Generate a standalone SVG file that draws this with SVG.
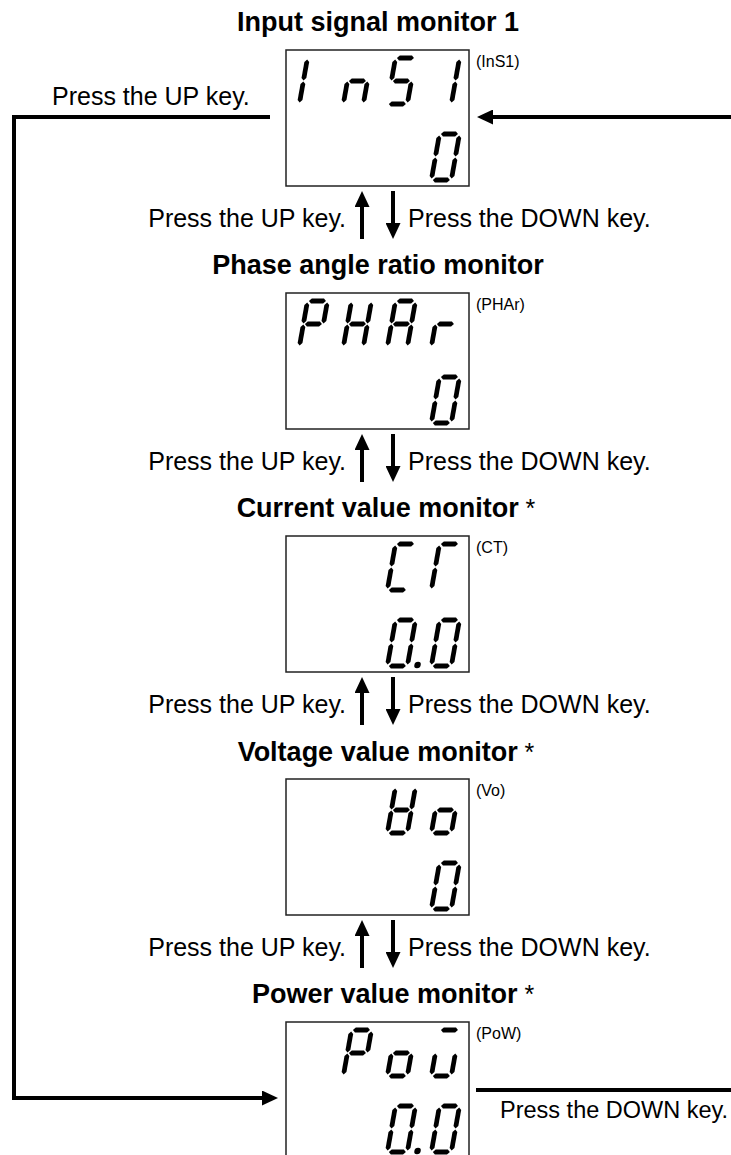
<svg xmlns="http://www.w3.org/2000/svg" xmlns:xlink="http://www.w3.org/1999/xlink" width="731" height="1155" viewBox="0 0 731 1155">
<style>
.title{font-family:"Liberation Sans",Arial,sans-serif;font-weight:bold;font-size:27px;fill:#000;text-anchor:middle}
.star{font-weight:normal;font-size:25px}
.lab{font-family:"Liberation Sans",Arial,sans-serif;font-size:25px;fill:#000}
.lab2{font-family:"Liberation Sans",Arial,sans-serif;font-size:23.5px;fill:#000}
.code{font-family:"Liberation Sans",Arial,sans-serif;font-size:16px;fill:#000}
.box{fill:#fff;stroke:#222;stroke-width:1.5}
.seg{fill:#000}
.wire{fill:none;stroke:#000;stroke-width:4}
</style>
<defs>
<marker id="ah" markerUnits="userSpaceOnUse" markerWidth="16" markerHeight="15" refX="0" refY="7.5" orient="auto">
<path d="M0,0 L16,7.5 L0,15 z" fill="#000"/>
</marker>
<polygon id="sa" class="seg" points="3.5,-48 5.9,-50.4 18.1,-50.4 20.5,-48 18.1,-45.6 5.9,-45.6"/>
<polygon id="sg" class="seg" points="3.5,-25 5.9,-27.4 18.1,-27.4 20.5,-25 18.1,-22.6 5.9,-22.6"/>
<polygon id="sd" class="seg" points="3.5,-2 5.9,-4.4 18.1,-4.4 20.5,-2 18.1,0.4 5.9,0.4"/>
<polygon id="sf" class="seg" points="2,-46.5 4.4,-44.1 4.4,-27.9 2,-25.5 -0.4,-27.9 -0.4,-44.1"/>
<polygon id="se" class="seg" points="2,-24.5 4.4,-22.1 4.4,-5.9 2,-3.5 -0.4,-5.9 -0.4,-22.1"/>
<polygon id="sb" class="seg" points="22,-46.5 24.4,-44.1 24.4,-27.9 22,-25.5 19.6,-27.9 19.6,-44.1"/>
<polygon id="sc" class="seg" points="22,-24.5 24.4,-22.1 24.4,-5.9 22,-3.5 19.6,-5.9 19.6,-22.1"/>
<circle id="dp" class="seg" cx="32" cy="-3" r="3.2"/>
<g id="d0"><use href="#sa"/><use href="#sb"/><use href="#sc"/><use href="#sd"/><use href="#se"/><use href="#sf"/></g>
</defs>

<g id="node-ins1">
<text class="title" x="378" y="31">Input signal monitor 1</text>
<rect class="box" x="286" y="50" width="183" height="136"/>
<text class="code" x="476" y="67">(InS1)</text>
<g transform="translate(297,106) skewX(-10)"><use href="#sf"/><use href="#se"/></g>
<g transform="translate(341,106) skewX(-10)"><use href="#sc"/><use href="#se"/><use href="#sg"/></g>
<g transform="translate(385,106) skewX(-10)"><use href="#sa"/><use href="#sf"/><use href="#sg"/><use href="#sc"/><use href="#sd"/></g>
<g transform="translate(429,106) skewX(-10)"><use href="#sb"/><use href="#sc"/></g>
<g transform="translate(429,182) skewX(-10)"><use href="#d0"/></g>
</g>

<g id="node-phar">
<text class="title" x="378" y="274">Phase angle ratio monitor</text>
<rect class="box" x="286" y="293" width="183" height="136"/>
<text class="code" x="476" y="310">(PHAr)</text>
<g transform="translate(297,349) skewX(-10)"><use href="#sa"/><use href="#sb"/><use href="#sf"/><use href="#sg"/><use href="#se"/></g>
<g transform="translate(341,349) skewX(-10)"><use href="#sb"/><use href="#sc"/><use href="#se"/><use href="#sf"/><use href="#sg"/></g>
<g transform="translate(385,349) skewX(-10)"><use href="#sa"/><use href="#sb"/><use href="#sc"/><use href="#se"/><use href="#sf"/><use href="#sg"/></g>
<g transform="translate(429,349) skewX(-10)"><use href="#se"/><use href="#sg"/></g>
<g transform="translate(429,425) skewX(-10)"><use href="#d0"/></g>
</g>

<g id="node-ct">
<text class="title" x="386" y="517">Current value monitor<tspan class="star"> *</tspan></text>
<rect class="box" x="286" y="536" width="183" height="136"/>
<text class="code" x="476" y="553">(CT)</text>
<g transform="translate(385,592) skewX(-10)"><use href="#sa"/><use href="#sd"/><use href="#se"/><use href="#sf"/></g>
<g transform="translate(429,592) skewX(-10)"><use href="#sa"/><use href="#se"/><use href="#sf"/></g>
<g transform="translate(385,668) skewX(-10)"><use href="#d0"/><use href="#dp"/></g>
<g transform="translate(429,668) skewX(-10)"><use href="#d0"/></g>
</g>

<g id="node-vo">
<text class="title" x="386" y="761">Voltage value monitor<tspan class="star"> *</tspan></text>
<rect class="box" x="286" y="779" width="183" height="136"/>
<text class="code" x="476" y="796">(Vo)</text>
<g transform="translate(385,835) skewX(-10)"><use href="#sb"/><use href="#sc"/><use href="#sd"/><use href="#se"/><use href="#sf"/><use href="#sg"/></g>
<g transform="translate(429,835) skewX(-10)"><use href="#sc"/><use href="#sd"/><use href="#se"/><use href="#sg"/></g>
<g transform="translate(429,911) skewX(-10)"><use href="#d0"/></g>
</g>

<g id="node-pow">
<text class="title" x="393" y="1003">Power value monitor<tspan class="star"> *</tspan></text>
<rect class="box" x="286" y="1022" width="183" height="136"/>
<text class="code" x="476" y="1039">(PoW)</text>
<g transform="translate(341,1078) skewX(-10)"><use href="#sa"/><use href="#sb"/><use href="#se"/><use href="#sf"/><use href="#sg"/></g>
<g transform="translate(385,1078) skewX(-10)"><use href="#sc"/><use href="#sd"/><use href="#se"/><use href="#sg"/></g>
<g transform="translate(429,1078) skewX(-10)"><use href="#sa"/><use href="#sc"/><use href="#sd"/><use href="#se"/></g>
<g transform="translate(385,1154) skewX(-10)"><use href="#d0"/><use href="#dp"/></g>
<g transform="translate(429,1154) skewX(-10)"><use href="#d0"/></g>
</g>

<g id="connectors">
<path class="wire" d="M270,117 H14 V1098 H262" marker-end="url(#ah)"/>
<text class="lab" x="52" y="105">Press the UP key.</text>
<path class="wire" d="M731,117 H493" marker-end="url(#ah)"/>
<path class="wire" d="M476,1090 H731"/>
<text class="lab2" x="500" y="1118">Press the DOWN key.</text>

<path class="wire" d="M362,239 V207" marker-end="url(#ah)"/>
<path class="wire" d="M393,191 V223" marker-end="url(#ah)"/>
<text class="lab" x="346" y="227" text-anchor="end">Press the UP key.</text>
<text class="lab" x="408" y="227">Press the DOWN key.</text>

<path class="wire" d="M362,482 V450" marker-end="url(#ah)"/>
<path class="wire" d="M393,434 V466" marker-end="url(#ah)"/>
<text class="lab" x="346" y="470" text-anchor="end">Press the UP key.</text>
<text class="lab" x="408" y="470">Press the DOWN key.</text>

<path class="wire" d="M362,725 V693" marker-end="url(#ah)"/>
<path class="wire" d="M393,677 V709" marker-end="url(#ah)"/>
<text class="lab" x="346" y="713" text-anchor="end">Press the UP key.</text>
<text class="lab" x="408" y="713">Press the DOWN key.</text>

<path class="wire" d="M362,968 V936" marker-end="url(#ah)"/>
<path class="wire" d="M393,920 V952" marker-end="url(#ah)"/>
<text class="lab" x="346" y="956" text-anchor="end">Press the UP key.</text>
<text class="lab" x="408" y="956">Press the DOWN key.</text>
</g>
</svg>
